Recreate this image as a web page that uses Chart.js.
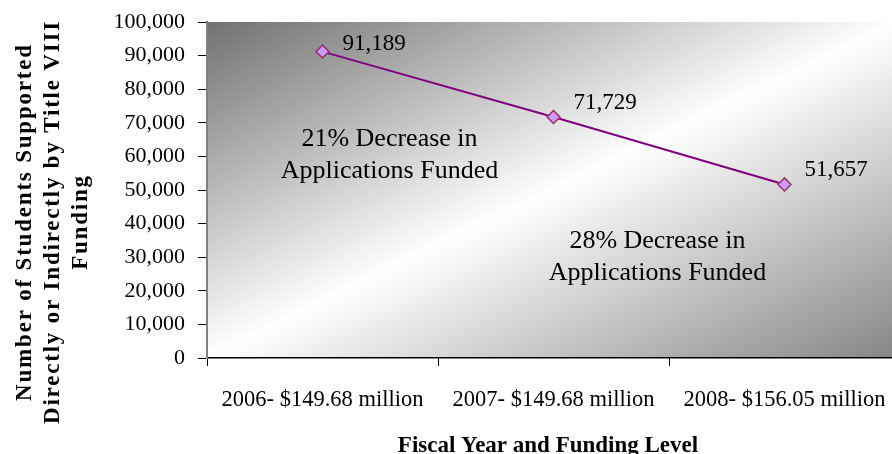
<!DOCTYPE html>
<html lang="en">

<head>
  <meta charset="UTF-8" />
  <meta name="viewport" content="width=device-width, initial-scale=1.0" />
  <title>Title VIII Funding</title>
  <style>
    html, body {
      margin: 0;
      padding: 0;
      background: #fff;
      overflow: hidden;
    }
    #wrap {
      width: 900px;
      height: 454px;
    }
  </style>
</head>

<body>

  <div id="wrap">
    <canvas id="myChart" width="900" height="454"></canvas>
  </div>

  <script src="https://cdn.jsdelivr.net/npm/chart.js"></script>

  <script type="text/javascript">
    // data
    const categories = ['2006- $149.68 million', '2007- $149.68 million', '2008- $156.05 million'];
    const students = [91189, 71729, 51657];
    const yTicks = [0, 10000, 20000, 30000, 40000, 50000, 60000, 70000, 80000, 90000, 100000];
    const notes = [
      ['21% Decrease in', 'Applications Funded'],
      ['28% Decrease in', 'Applications Funded']
    ];

    const serif = '"Liberation Serif", "Times New Roman", serif';

    // where the two notes sit, in scale units (category index, value)
    const notePlaces = [{ x: 0.29, y: 65200 }, { x: 1.45, y: 34800 }];

    const gradientBg = {
      id: 'gradientBg',
      beforeDraw(chart) {
        const { ctx, chartArea: a } = chart;
        ctx.save();
        ctx.translate(a.left, a.top);
        ctx.scale(a.right - a.left, a.bottom - a.top);
        const g = ctx.createLinearGradient(0, 0, 1, 1);
        g.addColorStop(0, '#717171');
        g.addColorStop(0.5, '#ffffff');
        g.addColorStop(1, '#858585');
        ctx.fillStyle = g;
        ctx.fillRect(0, 0, 1, 1);
        ctx.restore();
      }
    };

    const extraText = {
      id: 'extraText',
      afterDraw(chart) {
        const { ctx, chartArea: a } = chart;
        const xs = chart.scales.x, ys = chart.scales.y;
        ctx.save();
        ctx.fillStyle = '#000';

        // value labels next to the points
        ctx.font = '23px ' + serif;
        ctx.textAlign = 'left';
        ctx.textBaseline = 'middle';
        chart.getDatasetMeta(0).data.forEach((pt, i) => {
          const ty = Math.max(pt.y - 14, a.top + 22);
          ctx.fillText(students[i].toLocaleString('en-US'), pt.x + 20, ty);
        });

        // notes
        ctx.font = '26px ' + serif;
        ctx.textAlign = 'center';
        notes.forEach((lines, i) => {
          const cx = xs.getPixelForValue(notePlaces[i].x);
          const cy = ys.getPixelForValue(notePlaces[i].y);
          lines.forEach((t, j) => ctx.fillText(t, cx, cy + j * 32));
        });

        // x title
        ctx.font = 'bold 23px ' + serif;
        ctx.textBaseline = 'alphabetic';
        ctx.fillText('Fiscal Year and Funding Level', 548, 452);

        // y title, rotated
        ctx.font = 'bold 23px ' + serif;
        ctx.letterSpacing = '1.8px';
        const yLines = ['Number of Students Supported', 'Directly or Indirectly by Title VIII', 'Funding'];
        yLines.forEach((t, j) => {
          ctx.save();
          ctx.translate(31 + j * 28, 222);
          ctx.rotate(-Math.PI / 2);
          ctx.fillText(t, 0, 0);
          ctx.restore();
        });
        ctx.restore();
      }
    };

    const ctx = document.getElementById('myChart');

    new Chart(ctx, {
      type: 'line',
      data: {
        labels: categories,
        datasets: [{
          label: 'Students',
          data: students,
          borderColor: '#800080',
          borderWidth: 2,
          pointStyle: 'rectRot',
          pointRadius: 6.5,
          pointHoverRadius: 6.5,
          pointBackgroundColor: '#cc99ff',
          pointBorderColor: '#993366',
          pointBorderWidth: 1.5,
          tension: 0
        }]
      },
      options: {
        responsive: false,
        animation: false,
        events: [],
        layout: {
          autoPadding: false,
          padding: { top: 22, right: 0, left: 0, bottom: 0 }
        },
        plugins: {
          legend: { display: false },
          tooltip: { enabled: false }
        },
        scales: {
          x: {
            offset: true,
            grid: {
              offset: true,
              drawOnChartArea: false,
              tickLength: 8,
              tickColor: '#000',
              tickWidth: 1
            },
            border: { color: '#000', width: 1.5 },
            ticks: {
              color: '#000',
              padding: 21,
              maxRotation: 0,
              font: { family: serif, size: 22.5 }
            },
            afterFit(scale) {
              scale.height = 96;
              scale.paddingLeft = 0;
              scale.paddingRight = 0;
            }
          },
          y: {
            min: 0,
            max: 100000,
            afterBuildTicks(scale) {
              scale.ticks = yTicks.map(v => ({ value: v }));
            },
            grid: {
              drawOnChartArea: false,
              tickLength: 9,
              tickColor: '#000',
              tickWidth: 1
            },
            border: { color: '#808080', width: 2 },
            ticks: {
              color: '#000',
              padding: 13,
              font: { family: serif, size: 22 },
              callback: v => v.toLocaleString('en-US')
            },
            afterFit(scale) {
              scale.width = 207;
              scale.paddingTop = 0;
              scale.paddingBottom = 0;
            }
          }
        }
      },
      plugins: [gradientBg, extraText]
    });
  </script>
</body>
</html>
